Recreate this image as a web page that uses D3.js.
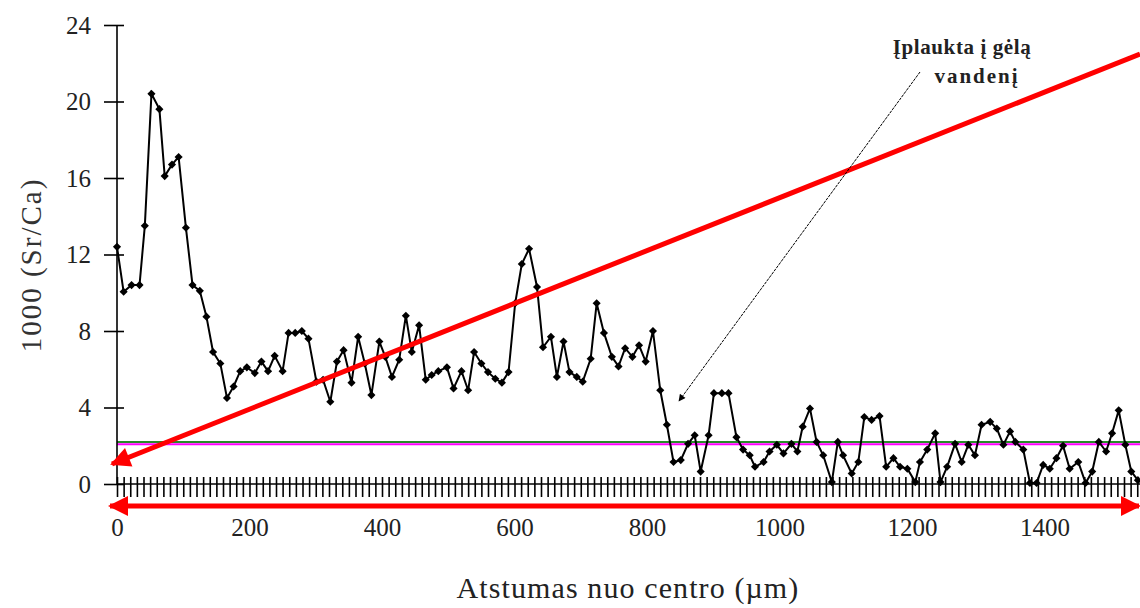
<!DOCTYPE html>
<html>
<head>
<meta charset="utf-8">
<script src="https://cdn.jsdelivr.net/npm/d3@7"></script>
<style>
  body { margin: 0; background: #fff; }
  svg { display: block; }
  text { font-family: "Liberation Serif", "Times New Roman", serif; }
</style>
</head>
<body>
<svg width="1140" height="608"></svg>
<script>
// distance from centre (µm) and 1000*(Sr/Ca)
var distance = [0, 10, 22, 34, 42, 52, 64, 72, 83, 93, 104, 114, 125, 135, 145, 156, 166, 176, 186, 196,
  208, 218, 228, 238, 250, 259, 269, 279, 289, 301, 311, 322, 332, 342, 354, 364, 374, 384, 396, 405,
  415, 426, 436, 445, 456, 466, 475, 485, 498, 508, 520, 530, 539, 550, 560, 571, 581, 591, 601, 611,
  622, 634, 643, 655, 664, 674, 683, 694, 703, 715, 724, 735, 747, 757, 767, 778, 788, 798, 809, 820,
  830, 840, 851, 862, 872, 881, 893, 901, 913, 923, 935, 945, 955, 963, 976, 985, 996, 1006, 1018, 1027,
  1035, 1046, 1056, 1066, 1079, 1088, 1096, 1109, 1119, 1128, 1139, 1151, 1161, 1172, 1182, 1193, 1205, 1212, 1223, 1235,
  1243, 1253, 1265, 1275, 1285, 1295, 1305, 1318, 1328, 1338, 1348, 1356, 1368, 1378, 1388, 1398, 1408, 1418, 1428, 1438,
  1451, 1462, 1472, 1482, 1493, 1502, 1512, 1522, 1531, 1541];
var srca = [12.4, 10.05, 10.4, 10.4, 13.5, 20.4, 19.6, 16.1, 16.7, 17.1, 13.4, 10.4, 10.1, 8.75, 6.9, 6.3, 4.5, 5.1, 5.9, 6.1,
  5.8, 6.4, 5.9, 6.7, 5.9, 7.9, 7.9, 8.0, 7.6, 5.35, 5.45, 4.3, 6.4, 7.0, 5.3, 7.7, 6.3, 4.65, 7.45, 6.65,
  5.6, 6.5, 8.8, 6.9, 8.3, 5.45, 5.7, 5.9, 6.1, 5.0, 5.9, 4.9, 6.9, 6.3, 5.85, 5.5, 5.3, 5.85, 9.45, 11.5,
  12.3, 10.3, 7.15, 7.7, 5.6, 7.45, 5.85, 5.6, 5.35, 6.55, 9.45, 7.9, 6.65, 6.15, 7.1, 6.65, 7.25, 6.4, 8.0, 4.9,
  3.1, 1.15, 1.25, 2.1, 2.55, 0.65, 2.55, 4.75, 4.75, 4.75, 2.45, 1.8, 1.5, 0.9, 1.15, 1.7, 2.05, 1.6, 2.1, 1.7,
  3.0, 3.95, 2.2, 1.5, 0.1, 2.2, 1.5, 0.55, 1.15, 3.5, 3.35, 3.55, 0.9, 1.35, 0.9, 0.8, 0.1, 1.15, 1.8, 2.65,
  0.1, 0.9, 2.1, 1.15, 2.05, 1.5, 3.1, 3.25, 2.9, 2.05, 2.75, 2.2, 1.8, 0.05, 0.05, 1.0, 0.8, 1.35, 2.0, 0.8,
  1.15, 0.05, 0.65, 2.2, 1.7, 2.65, 3.85, 2.05, 0.65, 0.2];
var yTicks = [0, 4, 8, 12, 16, 20, 24];
var xTicks = [0, 200, 400, 600, 800, 1000, 1200, 1400];
var levelGreen = 2.2;
var levelMagenta = 2.08;
var noteLines = ["Įplaukta į gėlą", "vandenį"];

var svg = d3.select("svg");
var width = +svg.attr("width");
var height = +svg.attr("height");

var x = d3.scaleLinear().domain([0, 1400]).range([117, 1044.5]);
var y = d3.scaleLinear().domain([0, 24]).range([484, 25]);
var xMax = x.invert(width);

var defs = svg.append("defs");
defs.append("marker")
  .attr("id", "redhead")
  .attr("viewBox", "0 0 10 10")
  .attr("refX", 9).attr("refY", 5)
  .attr("markerWidth", 5.4).attr("markerHeight", 4)
  .attr("markerUnits", "strokeWidth")
  .attr("orient", "auto-start-reverse")
  .append("path").attr("d", "M0,0L10,5L0,10Z").attr("fill", "#ff0000");
defs.append("marker")
  .attr("id", "blackhead")
  .attr("viewBox", "0 0 10 10")
  .attr("refX", 9).attr("refY", 5)
  .attr("markerWidth", 9).attr("markerHeight", 7)
  .attr("markerUnits", "userSpaceOnUse")
  .attr("orient", "auto")
  .append("path").attr("d", "M0,0L10,5L0,10Z").attr("fill", "#000");

// horizontal reference lines
svg.append("line")
  .attr("x1", x(0)).attr("x2", width)
  .attr("y1", y(levelGreen)).attr("y2", y(levelGreen))
  .attr("stroke", "#2a8a2a").attr("stroke-width", 2);
svg.append("line")
  .attr("x1", x(0)).attr("x2", width)
  .attr("y1", y(levelMagenta)).attr("y2", y(levelMagenta))
  .attr("stroke", "#ff00ff").attr("stroke-width", 2);

// y axis with crossing ticks
var yAxis = svg.append("g")
  .attr("transform", "translate(" + x(0) + ",0)")
  .call(d3.axisLeft(y).tickValues(yTicks).tickSize(13).tickPadding(13).tickFormat(d3.format("d")));
svg.append("g")
  .attr("transform", "translate(" + x(0) + ",0)")
  .call(d3.axisRight(y).tickValues(yTicks).tickSize(7).tickFormat(""))
  .select(".domain").remove();
yAxis.select(".domain").attr("d", "M0," + y(24) + "V" + y(0));
yAxis.selectAll("text").attr("font-size", 25).attr("fill", "#222")
  .style("font-family", "'Liberation Serif', serif");

// x axis: minor crossing ticks every 10 µm, labels every 200 µm
var minor = d3.range(0, xMax, 10);
var xAxisDown = svg.append("g")
  .attr("transform", "translate(0," + y(0) + ")")
  .call(d3.axisBottom(x).tickValues(minor).tickSize(13).tickFormat(""));
xAxisDown.select(".domain").attr("d", "M" + x(0) + ",0H" + width);
svg.append("g")
  .attr("transform", "translate(0," + y(0) + ")")
  .call(d3.axisTop(x).tickValues(minor).tickSize(7).tickFormat(""))
  .select(".domain").remove();
var xLabels = svg.append("g")
  .attr("transform", "translate(0," + y(0) + ")")
  .call(d3.axisBottom(x).tickValues(xTicks).tickSize(0).tickPadding(34).tickFormat(d3.format("d")));
xLabels.select(".domain").remove();
xLabels.selectAll("text").attr("font-size", 25).attr("fill", "#222")
  .style("font-family", "'Liberation Serif', serif");
svg.selectAll(".tick line").attr("stroke", "#000").attr("stroke-width", 1.6);
svg.selectAll(".domain").attr("stroke", "#000").attr("stroke-width", 1.6);

// axis titles
svg.append("text")
  .attr("x", 628).attr("y", 598)
  .attr("text-anchor", "middle")
  .attr("font-size", 30).attr("letter-spacing", 1.1).attr("fill", "#222")
  .text("Atstumas nuo centro (µm)");
svg.append("text")
  .attr("transform", "translate(41,265) rotate(-90)")
  .attr("text-anchor", "middle")
  .attr("font-size", 29).attr("letter-spacing", 2).attr("fill", "#333")
  .text("1000 (Sr/Ca)");

// data line with diamond markers
var pts = distance.map((d, i) => [d, srca[i]]);
var line = d3.line().x(d => x(d[0])).y(d => y(d[1]));
svg.append("path")
  .datum(pts)
  .attr("fill", "none")
  .attr("stroke", "#000")
  .attr("stroke-width", 2)
  .attr("d", line);
svg.append("g")
  .selectAll("path")
  .data(pts)
  .enter().append("path")
  .attr("transform", d => "translate(" + x(d[0]) + "," + y(d[1]) + ")")
  .attr("d", d3.symbol().type(d3.symbolDiamond2).size(42))
  .attr("fill", "#000");

// red arrows
svg.append("line")
  .attr("x1", width).attr("y1", 54)
  .attr("x2", 112).attr("y2", 464)
  .attr("stroke", "#ff0000").attr("stroke-width", 5)
  .attr("marker-end", "url(#redhead)");
svg.append("line")
  .attr("x1", 110).attr("y1", 506)
  .attr("x2", width - 1).attr("y2", 506)
  .attr("stroke", "#ff0000").attr("stroke-width", 5)
  .attr("marker-start", "url(#redhead)")
  .attr("marker-end", "url(#redhead)");

// annotation
svg.append("line")
  .attr("x1", 920).attr("y1", 72)
  .attr("x2", 679).attr("y2", 401)
  .attr("stroke", "#000").attr("stroke-width", 1)
  .attr("stroke-dasharray", "3,1")
  .attr("marker-end", "url(#blackhead)");
svg.append("g")
  .selectAll("text")
  .data(noteLines)
  .enter().append("text")
  .attr("x", (d, i) => i === 0 ? 962 : 977)
  .attr("y", (d, i) => 54 + i * 29)
  .attr("text-anchor", "middle")
  .attr("font-size", 21)
  .attr("letter-spacing", (d, i) => i === 0 ? 0.6 : 2)
  .attr("font-weight", "bold")
  .attr("fill", "#222")
  .text(d => d);
</script>
</body>
</html>
